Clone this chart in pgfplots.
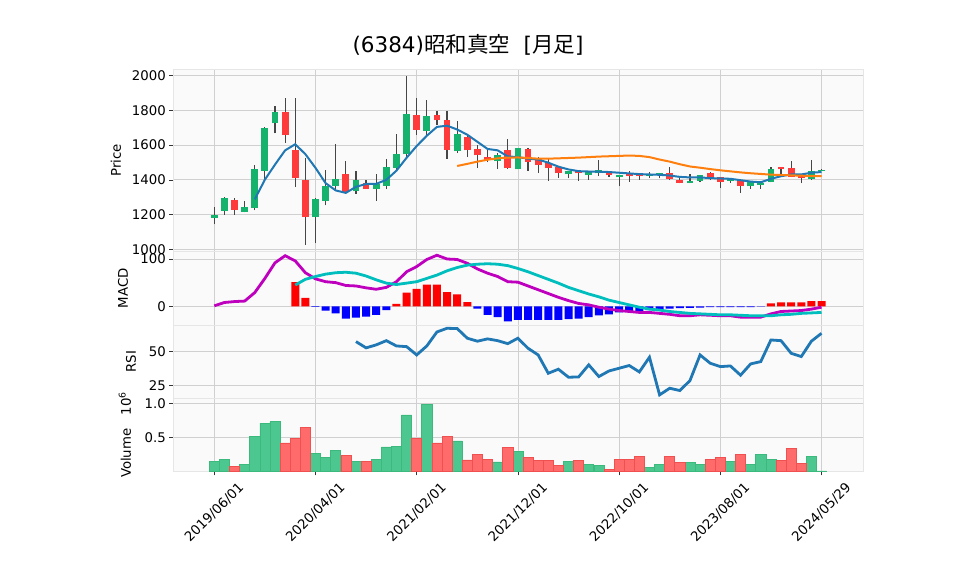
\documentclass[border=0pt]{standalone}
\usepackage{fontspec}
\setmainfont{DejaVu Sans}
\newfontfamily\cjk{Noto Sans CJK JP}
\usepackage{pgfplots}
\usepackage{pgfplotstable}
\pgfplotsset{compat=1.18}

\definecolor{upc}{RGB}{20,178,108}
\definecolor{dnc}{RGB}{255,58,58}
\definecolor{wickc}{RGB}{70,70,70}
\definecolor{vup}{RGB}{76,199,143}
\definecolor{vdn}{RGB}{255,107,107}
\definecolor{vupe}{RGB}{60,185,125}
\definecolor{vdne}{RGB}{240,80,80}
\definecolor{maA}{RGB}{31,119,180}
\definecolor{maB}{RGB}{255,127,14}
\definecolor{macdc}{RGB}{190,0,190}
\definecolor{sigc}{RGB}{0,190,190}
\definecolor{bgc}{RGB}{250,250,250}
\definecolor{gridc}{RGB}{208,208,208}
\definecolor{panelc}{RGB}{230,230,230}

% monthly candles, index 0 = 2019/06
\pgfplotstableread{
x o h l c
0 1181 1241 1144 1200
1 1222 1302 1200 1296
3 1216 1280 1212 1243
4 1239 1487 1224 1465
5 1452 1703 1395 1700
6 1726 1825 1668 1790
10 1187 1294 1035 1290
11 1280 1459 1253 1366
12 1362 1605 1346 1407
14 1333 1453 1319 1401
16 1350 1434 1280 1376
17 1366 1522 1350 1475
18 1469 1662 1459 1551
19 1547 2000 1533 1781
21 1683 1858 1654 1769
24 1566 1738 1557 1664
28 1508 1553 1463 1545
30 1461 1582 1461 1582
35 1433 1452 1408 1452
37 1427 1443 1402 1443
38 1437 1513 1421 1454
40 1415 1427 1367 1427
43 1425 1446 1412 1433
44 1431 1441 1408 1441
47 1381 1435 1379 1396
48 1395 1430 1387 1430
51 1394 1412 1383 1403
53 1364 1387 1348 1387
54 1372 1383 1350 1379
55 1386 1476 1386 1464
59 1406 1512 1402 1451
60 1451 1460 1451 1457
}\candup
\pgfplotstableread{
x o h l c
2 1284 1294 1200 1228
7 1790 1872 1615 1660
8 1570 1872 1360 1410
9 1401 1527 1025 1187
13 1436 1510 1319 1331
15 1381 1397 1346 1348
20 1773 1872 1660 1689
22 1775 1794 1718 1742
23 1745 1794 1522 1572
25 1646 1664 1533 1570
26 1576 1603 1469 1541
27 1533 1580 1502 1514
29 1570 1638 1463 1467
31 1580 1586 1451 1504
32 1527 1533 1440 1488
33 1495 1518 1396 1468
34 1476 1476 1412 1439
36 1449 1449 1396 1439
39 1452 1452 1418 1427
41 1437 1450 1389 1421
42 1435 1435 1402 1421
45 1441 1475 1398 1406
46 1402 1408 1380 1382
49 1437 1445 1402 1410
50 1418 1418 1353 1389
52 1394 1394 1325 1364
56 1476 1476 1431 1461
57 1466 1509 1418 1418
58 1421 1421 1381 1410
}\canddn

\pgfplotstableread{
x y
4 1288
5 1401
6 1488
7 1570
8 1605
9 1548
10 1469
11 1381
12 1339
13 1325
14 1360
15 1376
16 1377
17 1400
18 1453
19 1527
20 1595
21 1654
22 1705
23 1712
24 1690
25 1660
26 1619
27 1578
28 1570
29 1535
30 1531
31 1522
32 1517
33 1499
34 1476
35 1460
36 1450
37 1448
38 1447
39 1445
40 1441
41 1437
42 1433
43 1431
44 1429
45 1425
46 1417
47 1414
48 1414
49 1410
50 1408
51 1406
52 1398
53 1390
54 1386
55 1406
56 1421
57 1431
58 1431
59 1441
60 1445
}\maf

\pgfplotstableread{
x y
24 1480
25 1492
26 1505
27 1516
28 1524
29 1528
30 1529
31 1526
32 1522
33 1522
34 1524
35 1526
36 1528
37 1531
38 1534
39 1536
40 1538
41 1540
42 1538
43 1531
44 1517
45 1505
46 1490
47 1477
48 1470
49 1462
50 1455
51 1449
52 1443
53 1438
54 1434
55 1430
56 1428
57 1426
58 1424
59 1422
60 1422
}\mas

\pgfplotstableread{
x m
0 1
1 8
2 10
3 11
4 29
5 59
6 92
7 107
8 96
9 71
10 58
11 52
12 50
13 44
14 43
15 39
16 36
17 40
18 52
19 73
20 84
21 99
22 108
23 100
24 99
25 91
26 79
27 70
28 63
29 52
30 51
31 43
32 35
33 27
34 19
35 12
36 6
37 3
38 -2
39 -6
40 -9
41 -11
42 -13
43 -13
44 -15
45 -17
46 -20
47 -20
48 -18
49 -19
50 -20
51 -20
52 -23
53 -23
54 -23
55 -16
56 -11
57 -10
58 -9
59 -6
60 -2
}\macd

\pgfplotstableread{
x s
8 45
9 57
10 63
11 68
12 71
13 72
14 70
15 64
16 56
17 49
18 46
19 49
20 52
21 59
22 66
23 75
24 82
25 87
26 89
27 90
28 89
29 86
30 80
31 73
32 65
33 57
34 49
35 40
36 33
37 26
38 20
39 13
40 8
41 3
42 -2
43 -6
44 -8
45 -11
46 -13
47 -15
48 -16
49 -17
50 -18
51 -18
52 -19
53 -20
54 -20
55 -20
56 -18
57 -17
58 -15
59 -14
60 -13
}\signal

\pgfplotstableread{
x h
8 51
9 18
18 5
19 29
20 37
21 46
22 46
23 30
24 25
25 9
55 6
56 8.5
57 8.5
58 8.5
59 11
60 11
}\histpos
\pgfplotstableread{
x h
10 -1
11 -9
12 -15
13 -26
14 -24
15 -22
16 -18
17 -8
26 -5
27 -18
28 -23
29 -32
30 -29
31 -29
32 -29
33 -29
34 -29
35 -27
36 -26
37 -23
38 -19
39 -17
40 -13
41 -11
42 -10
43 -8
44 -6
45 -5
46 -4
47 -3.5
48 -3
49 -2
50 -2
51 -2
52 -2
53 -2
54 -0.5
}\histneg

\pgfplotstableread{
x r
14 57.1
15 52.5
16 54.7
17 57.8
18 53.9
19 53.4
20 47.3
21 53.9
22 64.2
23 66.9
24 66.7
25 59.6
26 57.4
27 59.1
28 57.8
29 55.6
30 59.6
31 52.2
32 47.3
33 33.8
34 36.8
35 30.9
36 31.1
37 40.0
38 31.4
39 35.5
40 37.5
41 39.5
42 34.8
43 45.6
44 17.9
45 22.8
46 21.1
47 28.4
48 47.3
49 41.2
50 38.7
51 39.2
52 32.4
53 40.7
54 42.4
55 58.3
56 57.8
57 48.5
58 46.1
59 57.4
60 63.2
}\rsi

\pgfplotstableread{
x v
0 0.15
1 0.18
3 0.11
4 0.52
5 0.71
6 0.73
10 0.27
11 0.21
12 0.31
14 0.15
16 0.18
17 0.36
18 0.37
19 0.83
21 0.98
24 0.45
28 0.14
30 0.29
35 0.15
37 0.10
38 0.09
43 0.06
44 0.10
47 0.13
48 0.10
51 0.15
53 0.10
54 0.25
55 0.18
59 0.22
60 0.01
}\volup
\pgfplotstableread{
x v
2 0.07
7 0.42
8 0.48
9 0.65
13 0.24
15 0.15
20 0.49
22 0.42
23 0.52
25 0.17
26 0.25
27 0.18
29 0.35
31 0.21
32 0.16
33 0.16
34 0.09
36 0.16
39 0.03
40 0.18
41 0.18
42 0.22
45 0.22
46 0.13
49 0.18
50 0.21
52 0.25
56 0.16
57 0.34
58 0.12
}\voldn

\pgfplotsset{
  panel/.style={
    scale only axis, width=690pt,
    xmin=-4.05, xmax=64.13,
    axis background/.style={fill=bgc},
    xmajorgrids=true, ymajorgrids=true,
    grid style={draw=gridc, line width=0.8pt},
    axis line style={draw=panelc},
    tick align=outside, major tick length=4pt,
    tick style={draw=black!80, line width=0.7pt},
    xtick={0,10,20,30,40,50,60},
    ytick pos=left, xtick pos=bottom,
    ticklabel style={font=\fontsize{13.3}{15}\selectfont},
    /pgf/number format/assume math mode=true,
    /pgf/number format/1000 sep={},
    label style={font=\fontsize{13.3}{15}\selectfont},
    ylabel style={anchor=center, rotate=0},
  },
  toppanel/.style={panel, xmajorticks=false},
  candle/.style 2 args={draw=none, no markers, forget plot, error bars/.cd, y dir=plus,
    y explicit, error mark=none, error bar style={draw=#1, line width=#2}},
}

\begin{document}
\begin{tikzpicture}
\path[use as bounding box] (0pt,0pt) rectangle (958pt,575pt);
\node[font=\fontsize{21.5}{24}\selectfont] at (468pt,530pt) {(6384){\cjk 昭和真空}\ \ [{\cjk 月足}]};

% price
\begin{axis}[toppanel, at={(173.3pt,323.5pt)}, anchor=south west, height=182.5pt,
  ymin=987.3, ymax=2038.6, ytick={1000,1200,1400,1600,1800,2000},
  ylabel={Price}, ylabel style={at={(axis description cs:-0.083,0.5)}}]
\addplot[candle={wickc}{1.2pt}]
  table[x=x, y=l, y error expr=\thisrow{h}-\thisrow{l}] {\candup};
\addplot[candle={wickc}{1.2pt}]
  table[x=x, y=l, y error expr=\thisrow{h}-\thisrow{l}] {\canddn};
\addplot[candle={upc}{6.8pt}]
  table[x=x, y=o, y error expr=\thisrow{c}-\thisrow{o}] {\candup};
\addplot[candle={dnc}{6.8pt}]
  table[x=x, y=c, y error expr=\thisrow{o}-\thisrow{c}] {\canddn};
\addplot[maA, line width=2pt, mark=none] table[x=x, y=y] {\maf};
\addplot[maB, line width=2pt, mark=none] table[x=x, y=y] {\mas};
\end{axis}

% MACD
\begin{axis}[toppanel, at={(173.3pt,249.7pt)}, anchor=south west, height=73.8pt,
  ymin=-40.2, ymax=115.9, ytick={0,100},
  ylabel={MACD}, ylabel style={at={(axis description cs:-0.073,0.5)}}]
\addplot[ybar, bar width=8pt, bar shift=0pt, fill=red, draw=none] table[x=x, y=h] {\histpos};
\addplot[ybar, bar width=8pt, bar shift=0pt, fill=blue, draw=none] table[x=x, y=h] {\histneg};
\addplot[macdc, line width=2.8pt, mark=none] table[x=x, y=m] {\macd};
\addplot[sigc, line width=2.8pt, mark=none] table[x=x, y=s] {\signal};
\end{axis}

% RSI
\begin{axis}[toppanel, at={(173.3pt,176.7pt)}, anchor=south west, height=73pt,
  ymin=15.4, ymax=69.1, ytick={25,50},
  ylabel={RSI}, ylabel style={at={(axis description cs:-0.0613,0.5)}}]
\addplot[maA, line width=2.8pt, mark=none] table[x=x, y=r] {\rsi};
\end{axis}

% volume
\begin{axis}[panel, at={(173.3pt,103.5pt)}, anchor=south west, height=73.2pt,
  ymin=0, ymax=1.074, ytick={0.5,1.0}, yticklabels={0.5,1.0},
  xticklabels={2019/06/01,2020/04/01,2021/02/01,2021/12/01,2022/10/01,2023/08/01,2024/05/29},
  xticklabel style={anchor=center, yshift=-37pt, rotate=45},
  ylabel={Volume\quad 10\textsuperscript{6}}, ylabel style={at={(axis description cs:-0.070,0.5)}}]
\addplot[ybar, bar width=10.1pt, bar shift=0pt, fill=vup, draw=vupe, line width=0.6pt] table[x=x, y=v] {\volup};
\addplot[ybar, bar width=10.1pt, bar shift=0pt, fill=vdn, draw=vdne, line width=0.6pt] table[x=x, y=v] {\voldn};
\end{axis}
\end{tikzpicture}
\end{document}
